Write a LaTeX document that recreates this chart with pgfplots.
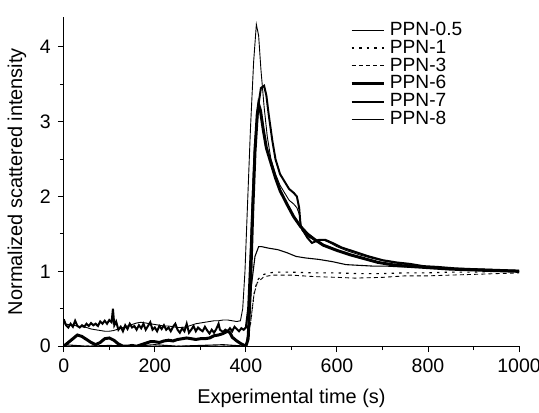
\documentclass[border=0pt]{standalone}
\usepackage{fontspec}
\setmainfont{Liberation Sans}
\usepackage{pgfplots}
\pgfplotsset{compat=1.18}
\begin{document}
\begin{tikzpicture}
\begin{axis}[
  scale only axis,
  width=228.5pt, height=165.25pt,
  xmin=0, xmax=1000, ymin=0, ymax=4.4,
  axis lines*=left,
  axis line style={line width=0.6pt},
  tick align=outside,
  major tick length=3pt, minor tick length=2pt,
  tick style={line width=0.5pt, black},
  xtick={0,200,400,600,800,1000},
  ytick={0,1,2,3,4},
  minor x tick num=1, minor y tick num=1,
  /pgf/number format/assume math mode=true,
  /pgf/number format/1000 sep={},
  ticklabel style={font=\fontsize{9.8}{11}\selectfont},
  label style={font=\fontsize{10}{12}\selectfont},
  xlabel={Experimental time (s)},
  ylabel={Normalized scattered intensity},
  xlabel style={yshift=-1pt},
  ylabel style={yshift=0pt},
  legend style={draw=none, fill=none, at={(rel axis cs:0.628,0.998)}, anchor=north west,
    font=\fontsize{9.6}{10}\selectfont, row sep=-3.2pt, inner sep=0pt},
  legend cell align=left,
  legend image code/.code={\draw[#1] (0pt,0pt) -- (16.5pt,0pt);},
]
\coordinate (sw) at (rel axis cs:0,0);
\coordinate (ne) at (rel axis cs:1,1);
% PPN-0.5
\addplot[black, line width=0.45pt] coordinates {
(0,0.30)(10,0.29)(20,0.28)(30,0.27)(40,0.26)(50,0.25)(60,0.23)(70,0.22)(80,0.21)(90,0.20)(100,0.20)(110,0.21)(120,0.23)(130,0.25)(140,0.27)(150,0.29)(160,0.31)(170,0.32)(180,0.31)(190,0.30)(200,0.29)(210,0.28)(220,0.27)(230,0.27)(240,0.26)(250,0.25)(260,0.25)(270,0.26)(280,0.28)(290,0.30)(300,0.31)(310,0.32)(320,0.33)(330,0.34)(340,0.34)(350,0.35)(360,0.35)(370,0.34)(380,0.33)(388,0.34)(393,0.5)(398,1.0)(403,1.8)(410,2.9)(417,3.8)(423,4.3)(428,4.15)(433,3.7)(440,3.2)(447,2.8)(455,2.5)(465,2.3)(475,2.15)(485,2.05)(495,1.95)(505,1.9)(512,1.85)(518,1.75)(523,1.55)(530,1.5)(540,1.45)(555,1.42)(570,1.42)(585,1.38)(600,1.33)(620,1.28)(650,1.22)(680,1.17)(710,1.13)(740,1.1)(770,1.08)(800,1.06)(850,1.04)(900,1.03)(950,1.02)(1000,1.0)};
\addlegendentry{PPN-0.5}
% PPN-1
\addplot[black, line width=0.6pt, dash pattern=on 1.2pt off 2.6pt] coordinates {
(0,0.0)(100,0.0)(200,0.0)(300,0.0)(400,0.0)(410,0.3)(418,0.7)(425,0.88)(435,0.95)(450,0.98)(470,0.99)(500,0.99)(550,0.98)(600,0.98)(650,0.97)(700,0.97)(750,0.98)(800,0.98)(850,0.99)(900,0.99)(950,1.0)(1000,1.0)};
\addlegendentry{PPN-1}
% PPN-3
\addplot[black, line width=0.45pt, dash pattern=on 2pt off 1.6pt] coordinates {
(0,0.0)(100,0.0)(200,0.0)(300,0.0)(400,0.0)(410,0.3)(418,0.7)(425,0.85)(440,0.93)(460,0.95)(500,0.95)(550,0.93)(600,0.92)(640,0.91)(700,0.92)(750,0.94)(800,0.94)(850,0.95)(900,0.96)(950,0.97)(1000,0.98)};
\addlegendentry{PPN-3}
% PPN-6
\addplot[black, line width=1.5pt] coordinates {
(0,0.0)(10,0.05)(20,0.1)(30,0.15)(40,0.13)(50,0.09)(60,0.05)(70,0.02)(80,0.05)(90,0.1)(100,0.11)(110,0.08)(120,0.03)(130,0.0)(140,0.0)(150,0.01)(160,0.0)(170,0.02)(180,0.04)(190,0.06)(200,0.06)(210,0.05)(220,0.07)(230,0.08)(240,0.07)(250,0.09)(260,0.1)(270,0.11)(280,0.1)(290,0.09)(300,0.1)(310,0.1)(320,0.11)(330,0.14)(340,0.15)(350,0.17)(360,0.2)(365,0.18)(370,0.12)(380,0.07)(390,0.03)(400,0.0)(405,0.1)(410,0.8)(415,1.8)(420,2.6)(425,3.1)(428,3.23)(432,3.15)(438,2.9)(445,2.65)(455,2.45)(465,2.25)(475,2.08)(490,1.9)(505,1.73)(520,1.6)(535,1.5)(550,1.43)(570,1.35)(600,1.28)(630,1.22)(660,1.17)(690,1.12)(720,1.09)(750,1.07)(800,1.05)(850,1.03)(900,1.02)(950,1.01)(1000,1.0)};
\addlegendentry{PPN-6}
% PPN-7
\addplot[black, line width=1.0pt] coordinates {
(0,0.36)(5,0.28)(10,0.25)(15,0.3)(20,0.26)(25,0.34)(30,0.27)(35,0.25)(40,0.28)(45,0.26)(50,0.3)(55,0.27)(60,0.31)(65,0.28)(70,0.3)(75,0.27)(80,0.33)(85,0.3)(90,0.34)(95,0.3)(100,0.35)(105,0.32)(108,0.5)(111,0.28)(115,0.33)(120,0.22)(125,0.26)(130,0.2)(135,0.28)(140,0.23)(145,0.3)(150,0.25)(155,0.27)(160,0.22)(165,0.28)(170,0.24)(175,0.3)(180,0.22)(185,0.27)(190,0.32)(195,0.22)(200,0.25)(205,0.2)(210,0.27)(215,0.23)(220,0.28)(225,0.22)(230,0.25)(235,0.2)(240,0.26)(245,0.3)(250,0.22)(255,0.18)(260,0.24)(265,0.2)(270,0.3)(275,0.18)(280,0.22)(285,0.27)(290,0.2)(295,0.25)(300,0.22)(305,0.2)(310,0.26)(315,0.21)(320,0.17)(325,0.22)(330,0.18)(335,0.23)(340,0.3)(343,0.22)(350,0.19)(355,0.22)(360,0.2)(365,0.24)(370,0.2)(375,0.26)(380,0.23)(385,0.2)(390,0.24)(395,0.22)(400,0.25)(405,0.5)(410,1.2)(415,2.0)(420,2.7)(427,3.2)(433,3.45)(440,3.48)(445,3.35)(450,3.1)(458,2.75)(465,2.5)(475,2.3)(485,2.2)(495,2.1)(505,2.05)(512,2.0)(517,1.85)(520,1.62)(525,1.55)(535,1.45)(545,1.38)(560,1.42)(575,1.42)(590,1.38)(610,1.32)(640,1.26)(670,1.2)(700,1.15)(730,1.12)(760,1.1)(790,1.07)(820,1.06)(860,1.04)(900,1.03)(950,1.02)(1000,1.01)};
\addlegendentry{PPN-7}
% PPN-8
\addplot[black, line width=0.55pt] coordinates {
(0,0.02)(50,0.0)(100,0.01)(150,0.0)(200,0.02)(250,0.0)(300,0.01)(350,0.02)(400,0.0)(405,0.2)(412,0.8)(420,1.2)(428,1.33)(435,1.33)(450,1.31)(470,1.29)(490,1.25)(510,1.2)(530,1.18)(560,1.16)(590,1.13)(620,1.09)(650,1.08)(680,1.07)(710,1.07)(740,1.06)(780,1.06)(820,1.04)(860,1.03)(900,1.02)(950,1.01)(1000,1.0)};
\addlegendentry{PPN-8}
\end{axis}
\pgfresetboundingbox
\path ([xshift=-32pt,yshift=-33.5pt]sw) rectangle ([xshift=10pt,yshift=8.5pt]ne);
\end{tikzpicture}
\end{document}
